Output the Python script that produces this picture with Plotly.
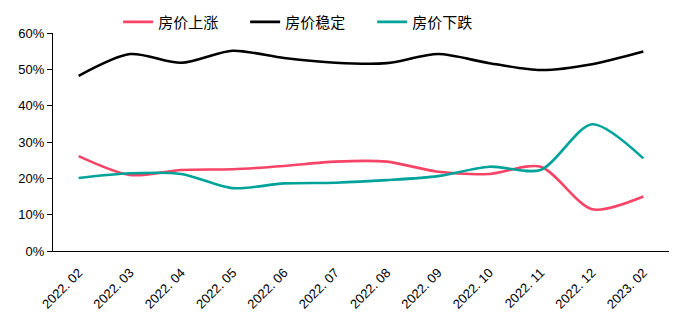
import plotly.graph_objects as go

categories = ["2022. 02", "2022. 03", "2022. 04", "2022. 05", "2022. 06", "2022. 07",
              "2022. 08", "2022. 09", "2022. 10", "2022. 11", "2022. 12", "2023. 02"]
rise = [26.1, 20.9, 22.3, 22.5, 23.4, 24.6, 24.6, 21.8, 21.2, 23.2, 11.5, 15.0]
stable = [48.2, 54.2, 51.8, 55.1, 53.1, 51.8, 51.7, 54.2, 51.7, 49.8, 51.4, 54.9]
fall = [20.1, 21.4, 21.2, 17.3, 18.6, 18.8, 19.5, 20.6, 23.2, 22.3, 34.9, 25.5]

series = [("房价上涨", rise, "#F64466"), ("房价稳定", stable, "#000000"), ("房价下跌", fall, "#00A39A")]

fig = go.Figure()
for name, vals, color in series:
    fig.add_trace(go.Scatter(
        x=categories, y=[v / 100 for v in vals], name=name, mode="lines",
        line=dict(color=color, width=2.6, shape="spline", smoothing=0.8),
    ))

fig.update_layout(
    width=678, height=333,
    margin=dict(l=53, r=9, t=33, b=82, autoexpand=False),
    plot_bgcolor="white", paper_bgcolor="white",
    font=dict(family="Liberation Sans, Arial", size=12, color="#000"),
    legend=dict(orientation="h", x=0.415, xanchor="center", y=1.05, yanchor="middle",
                font=dict(family="Noto Sans CJK SC", size=15, color="#000"),
                bgcolor="rgba(0,0,0,0)", entrywidth=82, entrywidthmode="pixels"),
    showlegend=True,
)
fig.update_xaxes(
    type="category", range=[-0.5, 11.5], tickangle=-45,
    showline=True, linecolor="#000", linewidth=1, showgrid=False,
    ticks="outside", ticklen=8, tickcolor="rgba(0,0,0,0)",
    tickfont=dict(size=13),
)
fig.update_yaxes(
    range=[0, 0.6], dtick=0.1, tickformat=".0%",
    showline=True, linecolor="#000", linewidth=1, showgrid=False, zeroline=False,
    ticks="outside", ticklen=5, tickcolor="#000", tickfont=dict(size=13),
)

fig.write_html("out.html")
